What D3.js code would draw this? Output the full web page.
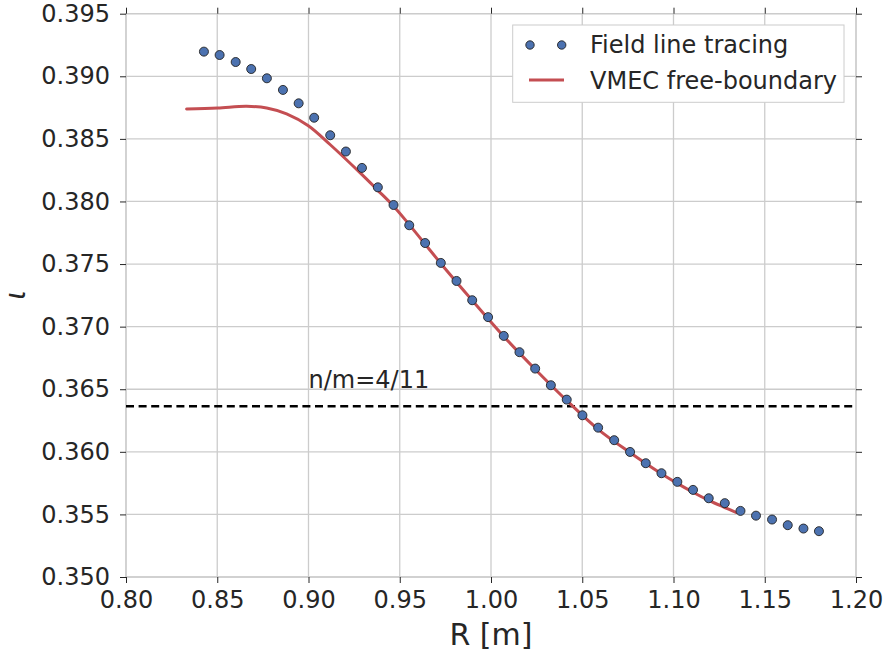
<!DOCTYPE html>
<html>
<head>
<meta charset="utf-8">
<script src="https://cdn.jsdelivr.net/npm/d3@7/dist/d3.min.js"></script>
<style>
  body { margin: 0; background: #fff; }
  svg { display: block; font-family: "DejaVu Sans", sans-serif; }
</style>
</head>
<body>
<svg id="chart" width="887" height="656"></svg>
<script>
// ---- Data ----
const tracingR = [0.8427, 0.8513, 0.8601, 0.8686, 0.8772, 0.8860, 0.8946, 0.9031, 0.9119, 0.9205,
  0.9293, 0.9380, 0.9466, 0.9552, 0.9639, 0.9725, 0.9811, 0.9897, 0.9984, 1.0070,
  1.0156, 1.0242, 1.0328, 1.0415, 1.0501, 1.0587, 1.0675, 1.0762, 1.0848, 1.0934,
  1.1021, 1.1107, 1.1193, 1.1281, 1.1367, 1.1452, 1.1540, 1.1626, 1.1712, 1.1797];
const tracingIota = [0.39197, 0.39170, 0.39114, 0.39058, 0.38984, 0.38891, 0.38784, 0.38669, 0.38529, 0.38399,
  0.38268, 0.38113, 0.37972, 0.37810, 0.37668, 0.37509, 0.37365, 0.37211, 0.37076, 0.36926,
  0.36796, 0.36665, 0.36532, 0.36417, 0.36292, 0.36193, 0.36093, 0.35999, 0.35909, 0.35829,
  0.35760, 0.35696, 0.35629, 0.35590, 0.35528, 0.35490, 0.35459, 0.35414, 0.35387, 0.35366];

const vmecR = [0.8332, 0.8502, 0.8661, 0.8771, 0.8880, 0.8999, 0.9118, 0.9282, 0.9380, 0.9464,
  0.9552, 0.9725, 0.9897, 1.0070, 1.0242, 1.0415, 1.0587, 1.0761, 1.0934, 1.1021,
  1.1107, 1.1193, 1.1281, 1.1345];
const vmecIota = [0.38739, 0.38747, 0.38760, 0.38747, 0.38700, 0.38605, 0.38455, 0.38230, 0.38089, 0.37966,
  0.37815, 0.37505, 0.37210, 0.36922, 0.36660, 0.36410, 0.36180, 0.35995, 0.35825, 0.35748,
  0.35677, 0.35612, 0.35555, 0.35515];

const resonance = 4 / 11;
const resonanceLabel = "n/m=4/11";
const xTicks = [0.80, 0.85, 0.90, 0.95, 1.00, 1.05, 1.10, 1.15, 1.20];
const yTicks = [0.350, 0.355, 0.360, 0.365, 0.370, 0.375, 0.380, 0.385, 0.390, 0.395];
const seriesNames = ["Field line tracing", "VMEC free-boundary"];
const xLabel = "R [m]";
const yLabel = "ι";

(function () {
// ---- Layout ----
const pL = 126, pR = 856, pT = 13.7, pB = 577;
const svg = d3.select("#chart");
const x = d3.scaleLinear().domain([0.80, 1.20]).range([pL, pR]);
const y = d3.scaleLinear().domain([0.350, 0.395]).range([pB, pT]);
const textColor = "#262626";
const gridColor = "#cccccc";

// grid
const grid = svg.append("g");
grid.selectAll("line.vx").data(xTicks).join("line")
  .attr("x1", d => x(d)).attr("x2", d => x(d)).attr("y1", pT).attr("y2", pB)
  .attr("stroke", gridColor).attr("stroke-width", 1.3);
grid.selectAll("line.hy").data(yTicks).join("line")
  .attr("y1", d => y(d)).attr("y2", d => y(d)).attr("x1", pL).attr("x2", pR)
  .attr("stroke", gridColor).attr("stroke-width", 1.3);

// frame
svg.append("rect").attr("x", pL).attr("y", pT).attr("width", pR - pL).attr("height", pB - pT)
  .attr("fill", "none").attr("stroke", gridColor).attr("stroke-width", 1.3);

// axes (ticks outward on all sides)
function styleAxis(g) {
  g.select(".domain").remove();
  g.selectAll(".tick line").attr("stroke", textColor).attr("stroke-width", 1);
  g.selectAll(".tick text").attr("fill", textColor).style("font-size", "24px")
    .style("font-family", "'DejaVu Sans', sans-serif");
}
const fmtX = d3.format(".2f"), fmtY = d3.format(".3f");
svg.append("g").attr("transform", `translate(0,${pB})`)
  .call(d3.axisBottom(x).tickValues(xTicks).tickFormat(fmtX).tickSize(6).tickPadding(8))
  .call(styleAxis);
svg.append("g").attr("transform", `translate(${pL},0)`)
  .call(d3.axisLeft(y).tickValues(yTicks).tickFormat(fmtY).tickSize(6).tickPadding(10))
  .call(styleAxis);
svg.append("g").attr("transform", `translate(0,${pT})`)
  .call(d3.axisTop(x).tickValues(xTicks).tickFormat("").tickSize(6))
  .call(styleAxis);
svg.append("g").attr("transform", `translate(${pR},0)`)
  .call(d3.axisRight(y).tickValues(yTicks).tickFormat("").tickSize(6))
  .call(styleAxis);

// resonance dashed line
svg.append("line")
  .attr("x1", pL).attr("x2", pR).attr("y1", y(resonance)).attr("y2", y(resonance))
  .attr("stroke", "#000").attr("stroke-width", 2.6).attr("stroke-dasharray", "8,4.6");
svg.append("text").attr("x", x(0.90)).attr("y", y(0.3651))
  .attr("fill", textColor).style("font-size", "24px").text(resonanceLabel);

// VMEC curve
const vmecData = vmecR.map((r, i) => [r, vmecIota[i]]);
svg.append("path").datum(vmecData)
  .attr("d", d3.line().x(d => x(d[0])).y(d => y(d[1])).curve(d3.curveCatmullRom.alpha(0.5)))
  .attr("fill", "none").attr("stroke", "#C44E52").attr("stroke-width", 3).attr("stroke-linecap", "round");

// tracing dots
const dotData = tracingR.map((r, i) => [r, tracingIota[i]]);
svg.append("g").selectAll("circle").data(dotData).join("circle")
  .attr("cx", d => x(d[0])).attr("cy", d => y(d[1])).attr("r", 4.5)
  .attr("fill", "#4C72B0").attr("stroke", "#222").attr("stroke-width", 0.9);

// legend
const lg = svg.append("g");
lg.append("rect").attr("x", 512.7).attr("y", 25).attr("width", 331.3).attr("height", 77.3)
  .attr("fill", "#fff").attr("stroke", gridColor).attr("stroke-width", 1);
[530, 561.7].forEach(cx => lg.append("circle").attr("cx", cx).attr("cy", 45).attr("r", 4.2)
  .attr("fill", "#4C72B0").attr("stroke", "#222").attr("stroke-width", 0.9));
lg.append("line").attr("x1", 529).attr("x2", 564).attr("y1", 80).attr("y2", 80)
  .attr("stroke", "#C44E52").attr("stroke-width", 3);
lg.append("text").attr("x", 590).attr("y", 53.3).attr("fill", textColor).style("font-size", "24px").text(seriesNames[0]);
lg.append("text").attr("x", 590).attr("y", 89.3).attr("fill", textColor).style("font-size", "24px").text(seriesNames[1]);

// axis labels
svg.append("text").attr("x", (pL + pR) / 2).attr("y", 645).attr("text-anchor", "middle")
  .attr("fill", textColor).style("font-size", "30px").text(xLabel);
svg.append("text").attr("transform", "translate(25,295) rotate(-90)").attr("text-anchor", "middle")
  .attr("fill", textColor).style("font-size", "28px").style("font-style", "italic").text(yLabel);
})();
</script>
</body>
</html>
